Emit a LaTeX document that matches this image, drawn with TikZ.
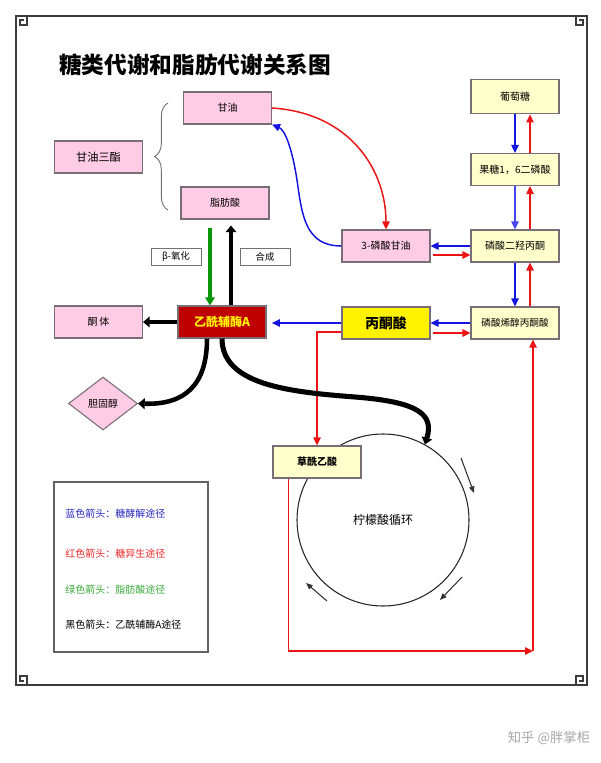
\documentclass[tikz,border=0pt]{standalone}
\usepackage{fontspec}
\newfontfamily\cjk{Noto Sans CJK SC}
\usetikzlibrary{arrows.meta,shapes.geometric,calc,decorations.pathreplacing}
\definecolor{pinkf}{RGB}{255,204,229}
\definecolor{ltyel}{RGB}{255,255,204}
\definecolor{bordc}{RGB}{120,110,120}
\definecolor{darkred}{RGB}{192,0,0}
\definecolor{arrblue}{RGB}{20,20,225}
\definecolor{arrbluelt}{RGB}{70,70,245}
\definecolor{arrred}{RGB}{235,20,20}
\definecolor{arrgreen}{RGB}{10,150,10}
\definecolor{legblue}{RGB}{40,40,190}
\definecolor{legred}{RGB}{235,40,40}
\definecolor{leggreen}{RGB}{60,170,60}
\definecolor{framec}{RGB}{60,60,60}
\begin{document}
\begin{tikzpicture}[x=0.75pt,y=-0.75pt,
  box/.style={draw=bordc, line width=0.8pt, minimum width=66pt, minimum height=24pt, inner sep=1pt, font=\cjk\fontsize{7.5}{9}\selectfont},
  pinkbox/.style={box, fill=pinkf},
  yelbox/.style={box, fill=ltyel},
  tagbox/.style={draw=bordc, line width=0.6pt, minimum width=37.5pt, minimum height=12.75pt, inner sep=0pt, font=\cjk\fontsize{7}{8}\selectfont},
  blu/.style={draw=arrblue, line width=1.1pt, -{Triangle[length=6pt,width=5.5pt]}},
  rd/.style={draw=arrred, line width=1.1pt, -{Triangle[length=6pt,width=5.5pt]}},
  grn/.style={draw=arrgreen, line width=3pt, -{Triangle[length=6pt,width=7pt]}},
  blk/.style={draw=black, line width=3.4pt, -{Triangle[length=5pt,width=8pt]}},
  cycarrow/.style={draw=black!80, line width=0.8pt, -{Triangle[length=5pt,width=4pt]}},
  legtext/.style={anchor=west, inner sep=0pt, font=\cjk\fontsize{7.5}{9}\selectfont},
  orn/.pic={\draw[framec, line width=0.8pt] (0,13) -- (0,0) -- (11,0) -- (11,9) -- (4,9) -- (4,4) -- (8,4);}
]
\useasboundingbox (0,0) rectangle (600,763);

% frame
\draw[framec, line width=1pt] (16,28) -- (16,673);
\draw[framec, line width=1pt] (587,28) -- (587,673);
\draw[framec, line width=1pt] (28,16) -- (575,16);
\draw[framec, line width=1pt] (28,685) -- (575,685);
\pic at (16,16) {orn};
\pic[xscale=-1] at (587,16) {orn};
\pic[yscale=-1] at (16,685) {orn};
\pic[xscale=-1,yscale=-1] at (587,685) {orn};

% title
\node[anchor=west, inner sep=0pt, font=\cjk\bfseries\fontsize{17}{20}\selectfont] (title) at (59,65) {糖类代谢和脂肪代谢关系图};

% nodes
\node[pinkbox] (gly) at (227.5,108) {甘油};
\node[pinkbox, font=\cjk\fontsize{8.4}{10}\selectfont] (tg) at (98.5,157) {甘油三酯};
\node[pinkbox] (fa) at (225,203) {脂肪酸};
\node[tagbox] (box) at (176,256.5) {β-氧化};
\node[tagbox] (syn) at (265,256.5) {合成};
\node[box, fill=darkred, text=yellow, font=\cjk\bfseries\fontsize{9}{11}\selectfont] (acoa) at (222,322) {乙酰辅酶A};
\node[pinkbox] (ket) at (98.5,322) {酮\,体};
\node[diamond, draw=bordc, line width=0.8pt, fill=pinkf, minimum width=51.75pt, minimum height=39.75pt, inner sep=0pt, font=\cjk\fontsize{7.5}{9}\selectfont] (chol) at (103,403.5) {胆固醇};
\node[box, fill=yellow, font=\cjk\bfseries\fontsize{10.3}{12}\selectfont] (pyr) at (386,323) {丙酮酸};
\node[yelbox, font=\cjk\fontsize{7.2}{9}\selectfont] (pep) at (515,323) {磷酸烯醇丙酮酸};
\node[yelbox] (dhap) at (515,246) {磷酸二羟丙酮};
\node[yelbox] (fbp) at (515,169.5) {果糖1，6二磷酸};
\node[yelbox, minimum height=26pt] (glc) at (515,96.5) {葡萄糖};
\node[pinkbox] (g3p) at (386,246) {3-磷酸甘油};
\node[circle, draw=black!85, line width=0.8pt, minimum size=129pt, inner sep=0pt, font=\cjk\fontsize{9}{11}\selectfont] (tca) at (383,520) {柠檬酸循环};
\node[yelbox, font=\cjk\bfseries\fontsize{7.5}{9}\selectfont] (oaa) at (317,462) {草酰乙酸};

% brace
\draw[bordc, line width=0.7pt, decorate, decoration={brace, amplitude=10pt}] (168,210) -- (168,103);

% glycerol arrows
\draw[rd] (gly.east) .. controls (350,113) and (386,170) .. (g3p.north);
\draw[blu] (g3p.west) .. controls (305,246) and (302,215) .. (297,180) .. controls (292,148) and (285,130) .. (gly.south east);

% right column
\draw[blu] (glc.south) -- (fbp.north);
\draw[rd] ($(fbp.north)+(15,0)$) -- ($(glc.south)+(15,0)$);
\draw[blu, draw=arrbluelt] (fbp.south) -- (dhap.north);
\draw[rd] ($(dhap.north)+(15,0)$) -- ($(fbp.south)+(15,0)$);
\draw[blu] (dhap.south) -- (pep.north);
\draw[rd] ($(pep.north)+(15,0)$) -- ($(dhap.south)+(15,0)$);

% horizontal pairs
\draw[blu] (dhap.west) -- (g3p.east);
\draw[rd, shorten <=2pt] ($(g3p.east)+(0,9)$) -- ($(dhap.west)+(0,9)$);
\draw[blu] (pep.west) -- (pyr.east);
\draw[rd, shorten <=2pt] ($(pyr.east)+(0,10)$) -- ($(pep.west)+(0,10)$);
\draw[blu, shorten >=4pt] (pyr.west) -- (pyr.west -| acoa.east);

% pyruvate to oxaloacetate, oxaloacetate to PEP
\draw[rd] ($(pyr.west)+(0,9)$) -| (oaa.north);
\coordinate (cor) at (533,651);
\draw[rd] ($(oaa.south west)+(16,0)$) |- (cor);
\draw[rd] (cor) -- (pep.south -| cor);

% fatty acid arrows
\coordinate (gtop) at ($(fa.south)+(-15,8)$);
\draw[grn] (gtop) -- (gtop |- acoa.north);
\coordinate (bbot) at ($(acoa.north)+(9,0)$);
\draw[blk, line width=3pt, shorten >=4.5pt] (bbot) -- (bbot |- fa.south);

% acetyl-CoA outputs
\draw[blk] (acoa.west) -- (ket.east);
\draw[blk] ($(acoa.south)+(-15,0)$) .. controls (207,385) and (185,405) .. (chol.east);
\draw[blk, line width=3.8pt] (acoa.south) .. controls (222,385) and (290,392) .. (355,397) .. controls (420,402) and (434,415) .. (tca.61);

% cycle arrows
\draw[cycarrow] (461,458) -- (474,493);
\draw[cycarrow] (462,577) -- (440,600);
\draw[cycarrow] (327,601) -- (306,583);

% legend
\node[draw=framec!80, line width=0.8pt, minimum width=115.5pt, minimum height=127.5pt, inner sep=0pt] (legend) at (131,567) {};
\node[legtext, text=legblue] (l1) at (65,514) {蓝色箭头：糖酵解途径};
\node[legtext, text=legred] (l2) at (65,554) {红色箭头：糖异生途径};
\node[legtext, text=leggreen] (l3) at (65,590) {绿色箭头：脂肪酸途径};
\node[legtext, text=black] (l4) at (65,625) {黑色箭头：乙酰辅酶A途径};

% watermark
\node[text=black!35, font=\cjk\fontsize{10}{12}\selectfont] (wm) at (549,738) {知乎 @胖掌柜};
\end{tikzpicture}
\end{document}
